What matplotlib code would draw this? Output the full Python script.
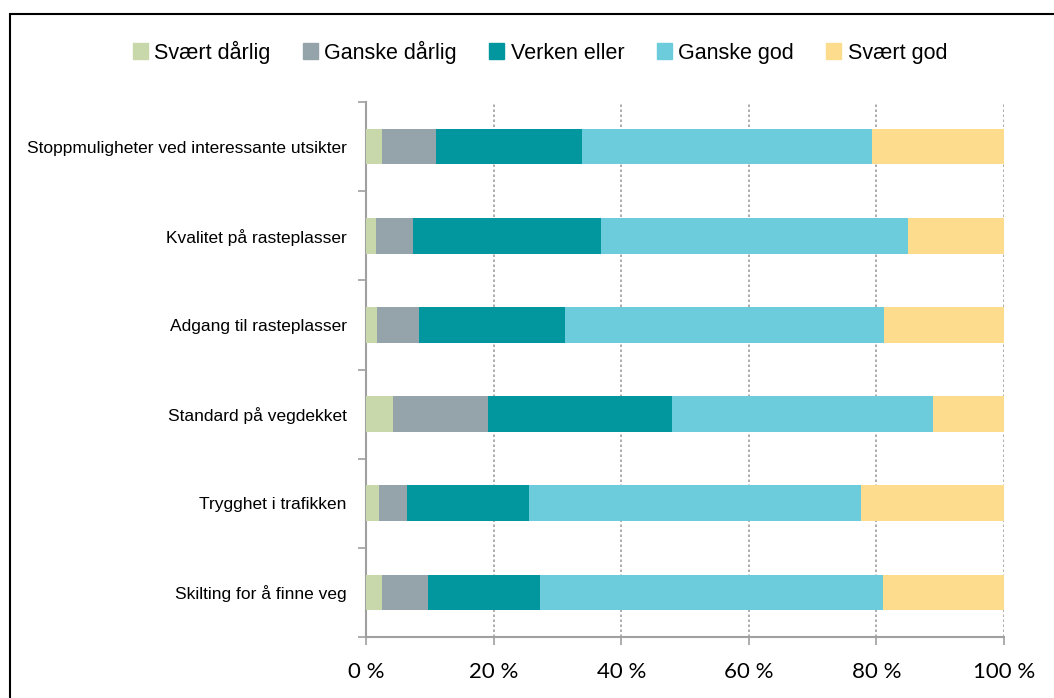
import matplotlib
matplotlib.use("Agg")
import matplotlib.pyplot as plt
import matplotlib.patches as mpatches
import numpy as np

# Data (percent of respondents), bottom to top
categories = ["Skilting for å finne veg", "Trygghet i trafikken", "Standard på vegdekket",
              "Adgang til rasteplasser", "Kvalitet på rasteplasser",
              "Stoppmuligheter ved interessante utsikter"]
series = ["Svært dårlig", "Ganske dårlig", "Verken eller", "Ganske god", "Svært god"]
svaert_darlig = [2.5, 2.0, 4.3, 1.8, 1.5, 2.5]
ganske_darlig = [7.2, 4.5, 14.9, 6.5, 5.8, 8.5]
verken_eller = [17.5, 19.0, 28.7, 22.9, 29.5, 22.9]
ganske_god = [53.8, 52.1, 40.9, 50.0, 48.2, 45.4]
svaert_god = [19.0, 22.4, 11.2, 18.8, 15.0, 20.7]
colors = ["#C9D8AB", "#95A3AA", "#02979E", "#6DCCDC", "#FDDC8E"]
xticks = [0, 20, 40, 60, 80, 100]

fig = plt.figure(figsize=(10.54, 6.98), dpi=100)
ax = fig.add_axes([366 / 1054, 1 - 637 / 698, 638 / 1054, 535 / 698])

values = [svaert_darlig, ganske_darlig, verken_eller, ganske_god, svaert_god]
y = np.arange(len(categories))
left = np.zeros(len(categories))
handles = []
for name, vals, c in zip(series, values, colors):
    vals = np.array(vals)
    ax.barh(y, vals, left=left, height=0.4, color=c, edgecolor="none", zorder=3)
    left += vals
    handles.append(mpatches.Patch(color=c, label=name))

ax.set_xlim(0, 100)
ax.set_ylim(-0.5, len(categories) - 0.5)
ax.set_xticks(xticks)
ax.set_xticklabels([f"{v} %" for v in xticks], fontsize=16, family="Lato")
ax.set_yticks(y)
ax.set_yticklabels(categories, fontsize=12.5, family="Liberation Sans")
ax.tick_params(axis="y", length=0, pad=14)
ax.set_yticks(np.arange(-0.5, len(categories)), minor=True)
ax.tick_params(axis="y", which="minor", length=6, color="#A0A0A0", width=1.2)
ax.tick_params(axis="x", length=6, color="#A0A0A0", width=1.2, pad=12)

ax.xaxis.grid(True, linestyle=(0, (1.5, 1.5)), color="#A0A0A0", linewidth=1.2, zorder=0)
for side in ["top", "right"]:
    ax.spines[side].set_visible(False)
for side in ["left", "bottom"]:
    ax.spines[side].set_color("#A0A0A0")
    ax.spines[side].set_linewidth(1.5)

fig.legend(handles=handles, loc="center", bbox_to_anchor=(540 / 1054, 1 - 52 / 698), ncol=5,
           frameon=False, handlelength=0.7, handleheight=0.7, handletextpad=0.3,
           columnspacing=1.5, prop={"family": "Liberation Sans", "size": 15.5})

# outer chart border (cut off at right and bottom like the reference)
fig.patches.append(mpatches.Rectangle((10 / 1054, -0.1), 1.1, 1 - 14 / 698 + 0.1,
                                      transform=fig.transFigure, fill=False,
                                      edgecolor="black", linewidth=1.5))

fig.savefig("out.png", dpi=100)
